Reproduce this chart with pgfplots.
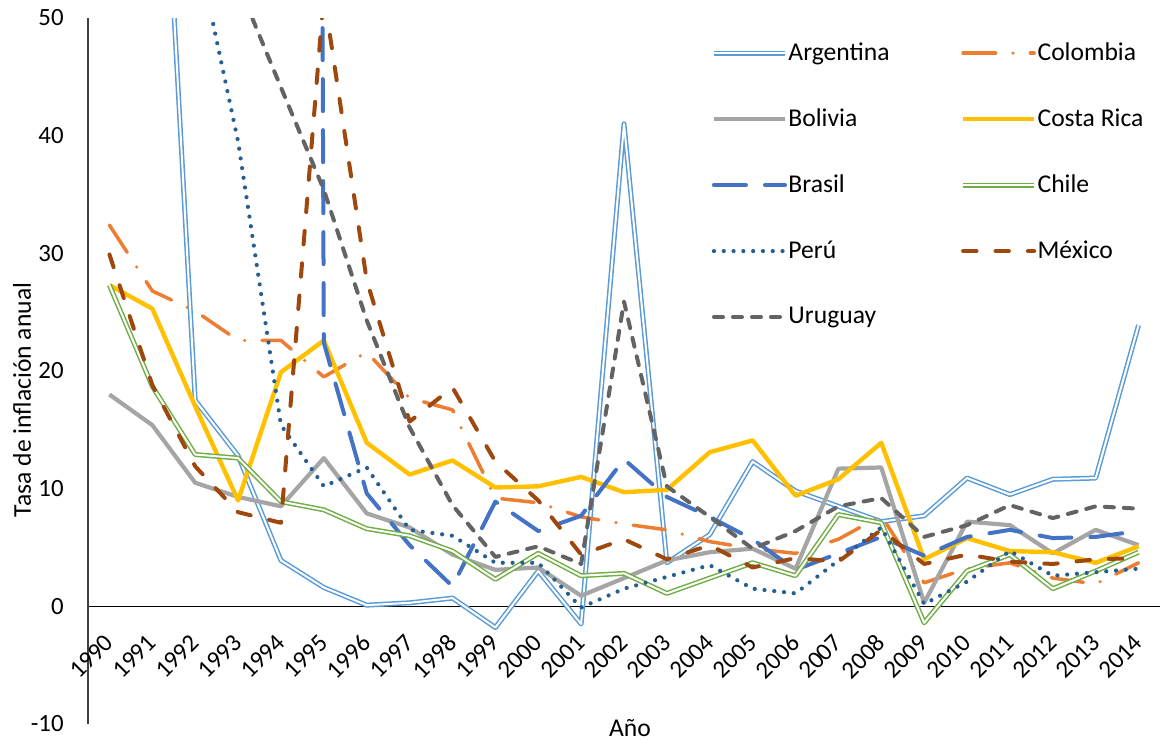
\documentclass[border=0pt]{standalone}
\usepackage{fontspec}
\setmainfont{Carlito}
\usepackage{pgfplots}
\usepackage{pgfplotstable}
\pgfplotsset{compat=1.18}

\definecolor{cArg}{HTML}{5B9BD5}
\definecolor{cCol}{HTML}{ED7D31}
\definecolor{cBol}{HTML}{A5A5A5}
\definecolor{cCri}{HTML}{FFC000}
\definecolor{cBra}{HTML}{4472C4}
\definecolor{cChl}{HTML}{70AD47}
\definecolor{cPer}{HTML}{255E91}
\definecolor{cMex}{HTML}{9E480E}
\definecolor{cUru}{HTML}{636363}

% Annual inflation rate (%), 1990-2014
\pgfplotstableread{
year  Arg    Col   Bol   Cri   Bra    Chl   Per    Mex   Uru
1990  1344   32.4  18.0  27.3  1620   27.3  7650   29.9  129.0
1991  84.0   26.8  15.4  25.3  472.7  18.7  139.2  18.8  81.5
1992  17.5   25.1  10.5  17.0  1119   12.9  56.7   11.9  58.9
1993  12.8   22.6  9.3   9.0   2477   12.6  39.5   8.0   52.9
1994  3.9    22.6  8.5   19.9  916    8.9   15.4   7.1   44.1
1995  1.6    19.5  12.6  22.6  22.4   8.2   10.2   52.0  35.4
1996  0.1    21.6  7.9   13.9  9.6    6.6   11.8   27.7  24.3
1997  0.3    17.7  6.7   11.2  5.2    6.0   6.5    15.7  15.2
1998  0.7    16.7  4.4   12.4  1.7    4.7   6.0    18.6  8.6
1999  -1.8   9.2   3.1   10.1  8.9    2.3   3.7    12.3  4.2
2000  3.0    8.8   3.3   10.2  6.4    4.5   3.7    9.0   5.1
2001  -1.5   7.6   0.9   11.0  7.7    2.6   -0.1   4.4   3.6
2002  41.0   7.0   2.4   9.7   12.5   2.8   1.5    5.7   25.9
2003  3.7    6.5   3.9   9.9   9.3    1.1   2.5    4.0   10.2
2004  6.1    5.5   4.6   13.1  7.6    2.4   3.5    5.2   7.6
2005  12.3   4.9   4.9   14.1  5.7    3.7   1.5    3.3   4.9
2006  9.8    4.5   3.2   9.4   3.1    2.6   1.1    4.1   6.4
2007  8.5    5.7   11.7  10.8  4.5    7.8   3.9    3.8   8.5
2008  7.2    7.7   11.8  13.9  5.9    7.1   6.7    6.5   9.2
2009  7.7    2.0   0.3   4.0   4.3    -1.4  0.2    3.6   5.9
2010  10.9   3.2   7.2   5.8   5.9    3.0   2.1    4.4   6.9
2011  9.5    3.7   6.9   4.7   6.5    4.4   4.7    3.8   8.6
2012  10.8   2.4   4.5   4.6   5.8    1.5   2.6    3.6   7.5
2013  10.9   1.9   6.5   3.7   5.9    3.0   2.9    4.0   8.5
2014  23.9   3.7   5.2   5.1   6.4    4.6   3.2    4.1   8.3
}\inflacion

\begin{document}
\begin{tikzpicture}
\useasboundingbox (0,0) rectangle (580.5bp,371bp);
\begin{axis}[
  at={(44bp,9bp)}, anchor=south west,
  scale only axis, width=536bp, height=353bp,
  xmin=1989.5, xmax=2014.5, ymin=-10, ymax=50,
  restrict y to domain=-20:2000,
  axis x line=middle, axis y line=left,
  hide obscured x ticks=false, hide obscured y ticks=false,
  axis line style={-},
  every inner x axis line/.append style={-},
  every outer x axis line/.append style={-},
  every inner y axis line/.append style={-},
  every outer y axis line/.append style={-},
  x axis line style={black, line width=0.8bp},
  y axis line style={black!75, line width=0.6bp},
  xtick={1990,...,2014},
  ytick={-10,0,...,50},
  major tick length=0pt,
  /pgf/number format/assume math mode=true,
  /pgf/number format/1000 sep={},
  xticklabel style={rotate=45, anchor=east, inner sep=0pt,
    font=\fontsize{12.4bp}{14bp}\selectfont},
  xticklabel shift=16bp,
  yticklabel style={anchor=east, inner sep=0pt,
    font=\fontsize{12.4bp}{14bp}\selectfont},
  yticklabel shift=12bp,
  xlabel={Año},
  ylabel={Tasa de inflación anual},
  every axis x label/.style={at={(axis description cs:0.5056,0)},
    anchor=base, yshift=-6.5bp, inner sep=0pt,
    font=\fontsize{12.8bp}{15bp}\selectfont},
  every axis y label/.style={at={(axis description cs:-0.0616,0.459)},
    rotate=90, anchor=center, inner sep=0pt,
    font=\fontsize{12.8bp}{15bp}\selectfont},
  legend columns=2,
  legend cell align=left,
  legend style={draw=none, fill=none, inner sep=0pt,
    at={(axis description cs:0.5812,0.9656)}, anchor=north west,
    font=\fontsize{12.8bp}{15bp}\selectfont,
    nodes={inner sep=0pt},
    row sep={33bp,between origins},
    /tikz/every odd column/.append style={column sep=0.5bp},
    /tikz/every even column/.append style={column sep=35.5bp}},
  legend image code/.code={\draw[#1] (0bp,0bp) -- (35.5bp,0bp);},
  every axis plot/.append style={line join=round},
]
\addplot[cArg, line width=0.75bp, double=white, double distance=1bp]
  table[x=year, y=Arg] {\inflacion};
\addlegendentry{Argentina}
\addplot[cCol, line width=1.75bp, line cap=round,
  dash pattern=on 16.25bp off 8.7bp on 0bp off 8.7bp]
  table[x=year, y=Col] {\inflacion};
\addlegendentry{Colombia}
\addplot[cBol, line width=2.1bp]
  table[x=year, y=Bol] {\inflacion};
\addlegendentry{Bolivia}
\addplot[cCri, line width=2.2bp]
  table[x=year, y=Cri] {\inflacion};
\addlegendentry{Costa Rica}
\addplot[cBra, line width=2bp, line cap=round,
  dash pattern=on 16bp off 9.5bp]
  table[x=year, y=Bra] {\inflacion};
\addlegendentry{Brasil}
\addplot[cChl, line width=0.75bp, double=white, double distance=1bp]
  table[x=year, y=Chl] {\inflacion};
\addlegendentry{Chile}
\addplot[cPer, line width=2.1bp, line cap=round,
  dash pattern=on 0bp off 4.9bp]
  table[x=year, y=Per] {\inflacion};
\addlegendentry{Perú}
\addplot[cMex, line width=2bp, line cap=round,
  dash pattern=on 6.7bp off 9.5bp]
  table[x=year, y=Mex] {\inflacion};
\addlegendentry{México}
\addplot[cUru, line width=2bp, line cap=round,
  dash pattern=on 4.5bp off 5bp]
  table[x=year, y=Uru] {\inflacion};
\addlegendentry{Uruguay}
\end{axis}
\end{tikzpicture}
\end{document}
